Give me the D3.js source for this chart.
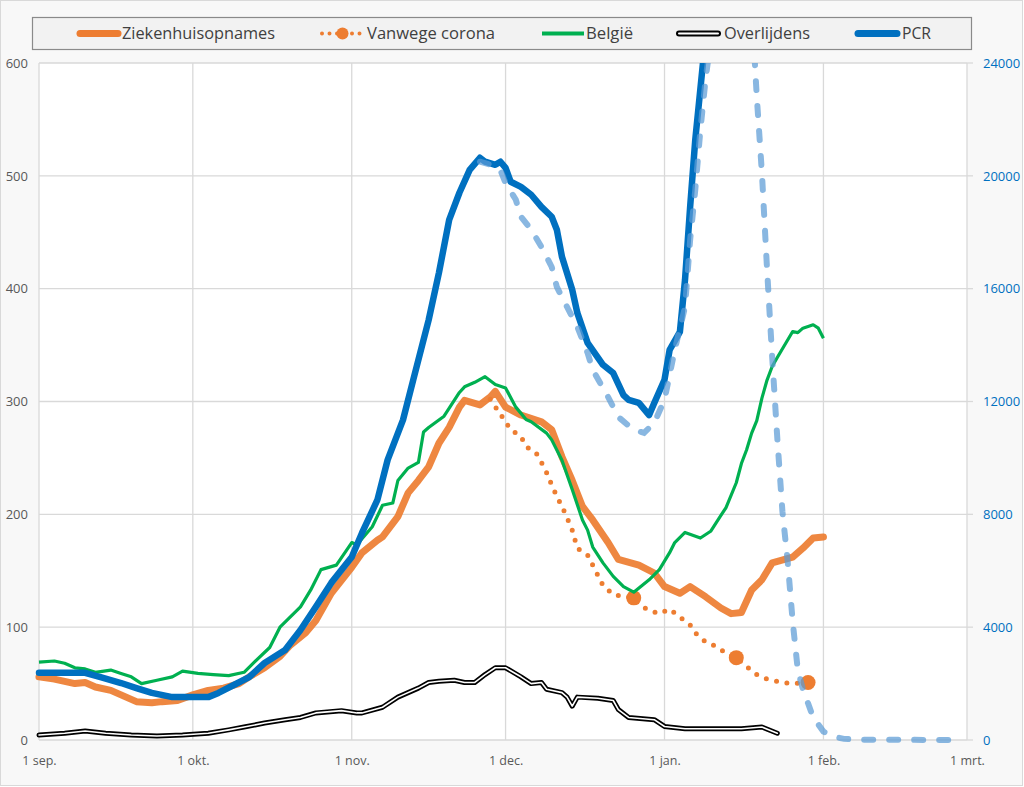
<!DOCTYPE html>
<html>
<head>
<meta charset="utf-8">
<script src="https://cdn.jsdelivr.net/npm/d3@7"></script>
<style>
  html, body { margin: 0; padding: 0; background: #ffffff; }
  svg { display: block; font-family: "Open Sans", "DejaVu Sans", sans-serif; }
</style>
</head>
<body>
<svg id="chart" width="1024" height="787"></svg>
<script>
// ---- Data (day offsets from 1 Sep 2020) ----
const ziekDays = [0,3,7,9,11,14,16,19,22,24,27,30,33,36,39,41,44,47,49,52,54,57,61,63,66,67,70,72,74,76,78,80,82,83,86,88,89,91,94,98,100,102,104,106,108,111,113,117,120,122,125,127,130,133,135,137,139,141,143,147,149,151,153];
const ziekVals = [56,54,50,51,47,44,40,34,33,34,35,40,44,46,50,56,64,74,84,95,106,130,153,166,177,180,198,219,230,242,263,277,295,301,297,304,309,295,288,282,275,251,230,207,195,175,160,155,148,136,130,136,127,117,112,113,133,142,157,162,170,179,180];

const coronaDays = [88,91,92,94,95,97,98,99,100,101,102,103,104,105,107,108,110,112,114,116,117,119,121,123,125,127,128,130,132,134,136,138,140,142,145,147,150];
const coronaVals = [302,282,275,269,260,254,246,237,226,216,207,197,186,170,164,155,137,129,127,126,120,115,112,116,109,102,95,87,83,77,73,65,58,54,51,50,51];
const coronaMarkerDays = [116,136,150];

const belgDays = [0,3,5,7,9,11,14,16,18,20,23,26,28,31,34,37,40,42,45,47,51,53,55,58,61,62,65,67,69,70,72,74,75,76,79,82,83,85,87,89,91,93,95,96,99,100,102,104,106,107,108,110,112,114,116,119,121,123,124,126,129,131,133,134,136,137,138,139,140,141,142,143,144,147,148,149,151,152,153];
const belgVals = [69,70,68,64,63,60,62,59,56,50,53,56,61,59,58,57,60,69,82,100,118,133,151,155,175,173,189,208,210,230,241,246,273,277,287,308,313,317,322,315,312,295,284,282,272,266,248,222,195,186,171,157,145,136,131,142,151,166,175,184,179,185,199,206,228,245,257,272,283,303,319,331,339,362,361,365,368,365,356];

const overlDays = [0,5,9,13,18,23,28,33,37,40,44,48,51,54,59,62,63,67,70,74,76,78,81,83,85,87,89,91,94,96,98,99,102,103,104,105,109,112,113,115,120,122,126,137,141,144];
const overlVals = [4.4,6,8,6,4.4,3.5,4.4,6,9,11.5,15,18,20,24,26,24,24,29,38,46,51,52,53,51,51,58,64,64,56,50,51,45,42,38,30,38,37,35,27,20,18,12,10,10,11.5,6];

const pcrDays = [0,5,9,12,16,19,22,26,29,33,35,38,41,44,48,51,54,57,61,63,66,68,71,73,76,78,80,82,84,86,87,89,90,91,92,94,96,98,100,101,102,104,105,107,110,112,114,115,117,119,120,122,123,125,126,127,128,130,131];
const pcrVals = [2380,2380,2380,2230,2020,1840,1670,1520,1520,1520,1670,1950,2230,2730,3190,3900,4720,5570,6490,7340,8510,9930,11350,12770,14890,16560,18440,19400,20210,20640,20500,20390,20500,20280,19790,19610,19330,18900,18550,18090,17130,15960,15140,14080,13300,13010,12230,12060,11950,11520,11950,12770,13830,14470,16310,18900,21280,24900,26500];

const pcr2Days = [86,88,90,91,93,94,96,98,100,101,103,105,107,108,111,113,116,118,120,122,124,126,127,128,129,130,131,132,134,136,138,139,140,141,142,143,144,145,146,147,148,149,150,151,152,153,155,157,160,180];
const pcr2Vals = [20500,20400,20200,19750,19150,18550,18090,17480,16770,16060,15350,14650,13720,13120,12160,11450,10990,10890,11240,12060,13830,15350,17730,19500,21630,23400,24800,27000,30000,31000,29000,26000,22800,20100,16700,13580,10700,8100,6380,4200,2480,1800,1300,800,550,300,120,40,10,0];

const leftTicks = [0,100,200,300,400,500,600];
const rightTicks = [0,4000,8000,12000,16000,20000,24000];
const monthTicks = ["2020-09-01","2020-10-01","2020-11-01","2020-12-01","2021-01-01","2021-02-01","2021-03-01"];
const monthLabels = ["1 sep.","1 okt.","1 nov.","1 dec.","1 jan.","1 feb.","1 mrt."];

const legendItems = [
  {label:"Ziekenhuisopnames", type:"orange"},
  {label:"Vanwege corona", type:"dotted"},
  {label:"België", type:"green"},
  {label:"Overlijdens", type:"black"},
  {label:"PCR", type:"blue"}
];

// ---- Setup ----
const DAY0 = Date.UTC(2020, 8, 1);
const toDate = d => new Date(DAY0 + d * 864e5);
const svg = d3.select("#chart");
const L = 39, R = 967, T = 63, B = 740;

const x = d3.scaleUtc().domain([new Date("2020-09-01T00:00:00Z"), new Date("2021-03-01T00:00:00Z")]).range([L, R]);
const yL = d3.scaleLinear().domain([0, 600]).range([B, T]);
const yR = d3.scaleLinear().domain([0, 24000]).range([B, T]);

// background
svg.append("rect").attr("x",0.5).attr("y",0.5).attr("width",1022).attr("height",785)
  .attr("fill","#f8f8f8").attr("stroke","#d9d9d9");
svg.append("rect").attr("x",L).attr("y",T).attr("width",R-L).attr("height",B-T).attr("fill","#ffffff");

// gridlines
const grid = svg.append("g");
grid.selectAll("line.h").data(leftTicks).join("line")
  .attr("x1",L).attr("x2",R).attr("y1",d=>yL(d)).attr("y2",d=>yL(d))
  .attr("stroke","#d9d9d9").attr("stroke-width",1.3);
grid.selectAll("line.v").data(monthTicks).join("line")
  .attr("y1",T).attr("y2",B).attr("x1",d=>x(new Date(d+"T00:00:00Z"))).attr("x2",d=>x(new Date(d+"T00:00:00Z")))
  .attr("stroke","#d9d9d9").attr("stroke-width",1.3);
grid.selectAll("line.rt").data(rightTicks).join("line")
  .attr("x1",R).attr("x2",R+6).attr("y1",d=>yR(d)).attr("y2",d=>yR(d))
  .attr("stroke","#d9d9d9").attr("stroke-width",1.3);

// axes labels
const axL = svg.append("g").attr("transform",`translate(${L-11},0)`)
  .call(d3.axisLeft(yL).tickValues(leftTicks).tickSize(0).tickPadding(0));
axL.select(".domain").remove();
axL.selectAll("text").attr("fill","#595959").style("font-size","13px").style("font-family","'Open Sans', sans-serif");

const axR = svg.append("g").attr("transform",`translate(${R+16},0)`)
  .call(d3.axisRight(yR).tickValues(rightTicks).tickSize(0).tickPadding(0).tickFormat(d3.format("d")));
axR.select(".domain").remove();
axR.selectAll("text").attr("fill","#0070c0").style("font-size","13px").style("font-family","'Open Sans', sans-serif");

const axB = svg.append("g").attr("transform",`translate(0,${B+16})`)
  .call(d3.axisBottom(x).tickValues(monthTicks.map(d=>new Date(d+"T00:00:00Z"))).tickSize(0).tickPadding(0)
    .tickFormat((d,i)=>monthLabels[i]));
axB.select(".domain").remove();
axB.selectAll("text").attr("fill","#595959").style("font-size","12.5px").style("font-family","'Open Sans', sans-serif");

// clip
svg.append("clipPath").attr("id","clip").append("rect")
  .attr("x",L-4).attr("y",T).attr("width",R-L+8).attr("height",B-T+10);
const plot = svg.append("g").attr("clip-path","url(#clip)");

const lineL = (days, vals) => d3.line().x((d,i)=>x(toDate(days[i]))).y((d,i)=>yL(vals[i]))(days);
const lineR = (days, vals) => d3.line().x((d,i)=>x(toDate(days[i]))).y((d,i)=>yR(vals[i]))(days);

// Ziekenhuisopnames
plot.append("path").attr("d", lineL(ziekDays, ziekVals))
  .attr("fill","none").attr("stroke","#ed7d31").attr("stroke-width",7)
  .attr("stroke-linejoin","round").attr("stroke-linecap","round").attr("opacity",0.92);

// Vanwege corona (dotted)
plot.append("path").attr("d", lineL(coronaDays, coronaVals))
  .attr("fill","none").attr("stroke","#ed7d31").attr("stroke-width",5)
  .attr("stroke-dasharray","0 10.5").attr("stroke-linecap","round");
plot.selectAll("circle.m").data(coronaMarkerDays).join("circle")
  .attr("cx", d=>x(toDate(d)))
  .attr("cy", d=>yL(coronaVals[coronaDays.indexOf(d)]))
  .attr("r",7.5).attr("fill","#ed7d31");

// België
plot.append("path").attr("d", lineL(belgDays, belgVals))
  .attr("fill","none").attr("stroke","#00b050").attr("stroke-width",3.2)
  .attr("stroke-linejoin","round");

// Overlijdens (double line)
const overlD = lineL(overlDays, overlVals);
plot.append("path").attr("d", overlD).attr("fill","none").attr("stroke","#000")
  .attr("stroke-width",5).attr("stroke-linejoin","round").attr("stroke-linecap","round");
plot.append("path").attr("d", overlD).attr("fill","none").attr("stroke","#fff")
  .attr("stroke-width",1.6).attr("stroke-linejoin","round").attr("stroke-linecap","round");

// PCR solid
plot.append("path").attr("d", lineR(pcrDays, pcrVals))
  .attr("fill","none").attr("stroke","#0070c0").attr("stroke-width",6.5)
  .attr("stroke-linejoin","round").attr("stroke-linecap","round");

// PCR dashed (light)
plot.append("path").attr("d", lineR(pcr2Days, pcr2Vals))
  .attr("fill","none").attr("stroke","#5b9bd5").attr("stroke-width",6)
  .attr("stroke-dasharray","9 16").attr("stroke-linecap","round").attr("opacity",0.72);

// ---- Legend ----
const lg = svg.append("g");
lg.append("rect").attr("x",32.5).attr("y",17.5).attr("width",939).attr("height",32)
  .attr("fill","#f2f2f2").attr("stroke","#8a8a8a").attr("stroke-width",1.2);
const ly = 33.5;
const legendPos = [
  {x1:77, x2:121, tx:122, tw:153},
  {x1:320, x2:363, tx:367, tw:128},
  {x1:542, x2:584, tx:586, tw:47},
  {x1:676, x2:721, tx:724, tw:86},
  {x1:855, x2:900, tx:902, tw:29}
];
legendItems.forEach((it, i) => {
  const p = legendPos[i];
  if (it.type === "orange") {
    lg.append("line").attr("x1",p.x1+3).attr("x2",p.x2-3).attr("y1",ly).attr("y2",ly)
      .attr("stroke","#ed7d31").attr("stroke-width",7).attr("stroke-linecap","round");
  } else if (it.type === "dotted") {
    lg.append("line").attr("x1",p.x1+2).attr("x2",p.x2).attr("y1",ly).attr("y2",ly)
      .attr("stroke","#ed7d31").attr("stroke-width",4).attr("stroke-dasharray","0 7.5").attr("stroke-linecap","round");
    lg.append("circle").attr("cx",(p.x1+p.x2)/2+1).attr("cy",ly).attr("r",6).attr("fill","#ed7d31");
  } else if (it.type === "green") {
    lg.append("line").attr("x1",p.x1).attr("x2",p.x2).attr("y1",ly).attr("y2",ly)
      .attr("stroke","#00b050").attr("stroke-width",4);
  } else if (it.type === "black") {
    lg.append("line").attr("x1",p.x1+3).attr("x2",p.x2-3).attr("y1",ly).attr("y2",ly)
      .attr("stroke","#000").attr("stroke-width",6).attr("stroke-linecap","round");
    lg.append("line").attr("x1",p.x1+3).attr("x2",p.x2-3).attr("y1",ly).attr("y2",ly)
      .attr("stroke","#fff").attr("stroke-width",2).attr("stroke-linecap","round");
  } else {
    lg.append("line").attr("x1",p.x1+3).attr("x2",p.x2-3).attr("y1",ly).attr("y2",ly)
      .attr("stroke","#0070c0").attr("stroke-width",7).attr("stroke-linecap","round");
  }
  lg.append("text").attr("x",p.tx).attr("y",ly).attr("dy","0.35em")
    .attr("textLength",p.tw).attr("lengthAdjust","spacingAndGlyphs")
    .attr("fill","#404040").style("font-size","17px").text(it.label);
});
</script>
</body>
</html>
